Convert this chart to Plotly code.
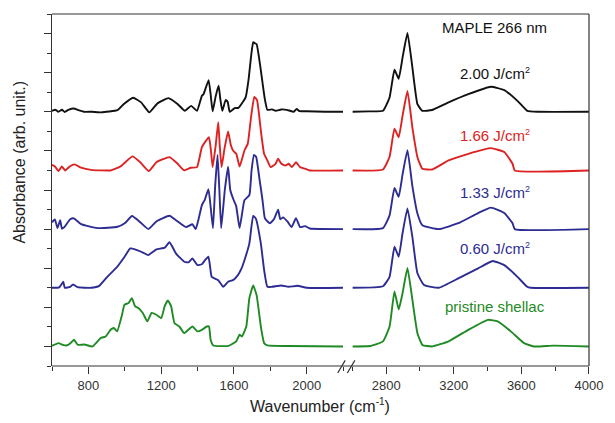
import plotly.graph_objects as go

FONT = "Liberation Sans, Arial, sans-serif"

# Fingerprint region (600-2200 cm-1): (wavenumber, absorbance) pairs
fp_pristine = [
    (600, 0.03), (635, 0.17), (660, 0.08), (679, 0.05), (700, 0.15), (721, 0.34),
    (742, 0.08), (778, 0.1), (823, 0.0), (868, 0.43), (895, 0.51), (922, 0.85),
    (940, 0.94), (958, 0.77), (985, 1.62), (998, 2.13), (1021, 2.22), (1039, 2.47),
    (1057, 2.05), (1075, 1.96), (1099, 1.71), (1124, 1.28), (1147, 1.71), (1174, 1.62),
    (1201, 1.45), (1219, 2.05), (1237, 2.35), (1255, 2.05), (1273, 1.2), (1300, 1.02),
    (1327, 0.68), (1372, 1.02), (1399, 0.77), (1424, 0.85), (1451, 1.02), (1463, 1.02),
    (1472, 0.34), (1487, 0.05), (1570, 0.03), (1613, 0.26), (1631, 0.6), (1644, 0.51),
    (1668, 1.02), (1685, 2.47), (1706, 3.12), (1725, 2.61), (1748, 1.02), (1766, 0.17),
    (1784, 0.05), (1900, 0.02), (2200, 0.0),
]
fp_060 = [
    (600, 0.0), (640, 0.02), (662, 0.31), (670, 0.0), (700, 0.05), (716, 0.17),
    (740, 0.03), (814, 0.0), (860, 0.1), (904, 0.56), (958, 1.07), (1000, 1.6),
    (1030, 2.01), (1060, 1.95), (1100, 1.8), (1129, 1.67), (1174, 1.96), (1220, 2.05),
    (1246, 2.33), (1282, 1.75), (1327, 1.33), (1350, 1.3), (1372, 1.5), (1399, 1.16),
    (1424, 1.2), (1440, 1.4), (1460, 1.59), (1470, 1.0), (1478, 0.56), (1514, 0.39),
    (1541, 0.05), (1568, 0.31), (1595, 0.39), (1622, 0.65), (1640, 0.95), (1658, 1.41),
    (1685, 2.27), (1706, 3.67), (1720, 3.55), (1748, 2.27), (1766, 0.91), (1784, 0.05),
    (1810, 0.05), (1860, 0.12), (1900, 0.05), (1950, 0.1), (2000, 0.0), (2200, 0.0),
]
fp_133 = [
    (600, 0.35), (616, 0.5), (630, 0.05), (645, 0.45), (655, 0.02), (668, 0.1),
    (700, 0.5), (720, 0.55), (760, 0.25), (850, 0.05), (960, 0.12), (1000, 0.3),
    (1040, 0.67), (1085, 0.35), (1130, 0.0), (1175, 0.4), (1246, 0.68), (1282, 0.45),
    (1336, 0.1), (1372, 0.25), (1390, 0.0), (1408, 0.6), (1424, 1.23), (1440, 1.5),
    (1460, 2.04), (1472, 1.15), (1485, 0.05), (1497, 2.2), (1510, 3.79), (1520, 2.0),
    (1530, 0.05), (1550, 2.0), (1568, 3.19), (1580, 2.0), (1598, 1.5), (1612, 1.2),
    (1631, 0.05), (1645, 0.8), (1658, 1.48), (1685, 1.74), (1697, 3.0), (1710, 3.79),
    (1722, 3.7), (1740, 2.6), (1757, 1.5), (1770, 0.56), (1784, 0.4), (1798, 0.3),
    (1820, 0.5), (1843, 0.99), (1855, 0.5), (1870, 0.6), (1895, 0.38), (1917, 0.1),
    (1941, 0.56), (1964, 0.1), (1991, 0.15), (2018, 0.03), (2200, 0.0),
]
fp_166 = [
    (600, 0.28), (616, 0.2), (636, -0.03), (654, 0.2), (672, 0.0), (697, 0.2),
    (724, 0.31), (760, 0.14), (814, 0.03), (922, 0.0), (976, 0.2), (1042, 0.72),
    (1084, 0.43), (1132, -0.03), (1174, 0.42), (1246, 0.68), (1291, 0.34), (1327, 0.0),
    (1363, 0.14), (1397, 0.17), (1424, 1.19), (1445, 1.5), (1463, 1.7), (1474, 1.0),
    (1483, 0.17), (1500, 1.3), (1514, 2.47), (1522, 1.3), (1532, 0.17), (1548, 1.1),
    (1568, 1.99), (1583, 1.3), (1595, 1.02), (1613, 0.85), (1631, 0.2), (1645, 0.6),
    (1658, 1.02), (1676, 1.36), (1694, 2.71), (1712, 3.76), (1727, 3.6), (1748, 2.05),
    (1766, 0.85), (1784, 0.51), (1802, 0.17), (1829, 0.34), (1843, 0.6), (1861, 0.34),
    (1883, 0.25), (1901, 0.34), (1919, 0.17), (1941, 0.42), (1964, 0.17), (1991, 0.09),
    (2018, 0.0), (2200, 0.0),
]
fp_200 = [
    (600, 0.05), (620, 0.1), (635, 0.0), (655, 0.1), (670, -0.01), (690, 0.1),
    (720, 0.17), (745, 0.08), (775, 0.0), (820, 0.0), (870, -0.03), (960, 0.08),
    (995, 0.4), (1046, 0.72), (1090, 0.48), (1135, -0.03), (1180, 0.43), (1240, 0.7),
    (1290, 0.4), (1330, 0.05), (1365, 0.3), (1397, 0.05), (1424, 0.82), (1433, 0.9),
    (1461, 1.62), (1472, 0.9), (1483, 0.02), (1500, 0.8), (1516, 1.33), (1526, 0.6),
    (1536, 0.05), (1555, 0.61), (1566, 0.5), (1577, 0.0), (1604, 0.19), (1625, 0.2),
    (1649, 0.5), (1665, 0.75), (1680, 1.6), (1694, 2.8), (1706, 3.56), (1716, 3.5),
    (1725, 3.45), (1743, 2.46), (1757, 1.5), (1770, 0.65), (1784, 0.1), (1810, 0.12),
    (1830, 0.05), (1860, 0.12), (1890, 0.1), (1930, 0.0), (1945, 0.15), (1960, 0.03),
    (2000, 0.03), (2100, 0.0), (2200, 0.0),
]

# C-H / O-H stretching region (2600-4000 cm-1)
ch_pristine = [
    (2600, 0.0), (2703, 0.02), (2781, 0.26), (2820, 1.02), (2849, 2.81), (2874, 1.89),
    (2897, 2.73), (2926, 4.01), (2955, 2.39), (2985, 0.68), (3014, 0.08), (3072, 0.0),
    (3169, 0.26), (3286, 0.85), (3402, 1.36), (3460, 1.28), (3538, 0.77), (3616, 0.17),
    (3674, 0.0), (3790, 0.04), (4000, 0.0),
]
ch_060 = [
    (2600, 0.0), (2781, 0.08), (2820, 0.56), (2849, 2.1), (2874, 1.59), (2897, 2.8),
    (2926, 4.06), (2955, 2.6), (2985, 0.74), (3024, 0.14), (3111, 0.0), (3227, 0.48),
    (3344, 0.99), (3430, 1.37), (3499, 1.16), (3577, 0.56), (3635, 0.05), (3655, 0.0),
    (4000, 0.0),
]
ch_133 = [
    (2600, 0.0), (2781, 0.05), (2820, 0.7), (2849, 2.1), (2874, 1.65), (2897, 2.8),
    (2926, 4.04), (2955, 2.2), (2985, 0.8), (3014, 0.2), (3111, 0.0), (3227, 0.3),
    (3344, 0.82), (3420, 1.1), (3499, 0.82), (3548, 0.3), (3561, 0.0), (4000, 0.0),
]
ch_166 = [
    (2600, 0.0), (2781, 0.05), (2820, 0.7), (2849, 2.13), (2874, 1.7), (2897, 2.8),
    (2926, 4.06), (2955, 2.2), (2985, 0.68), (3014, 0.09), (3072, 0.05), (3169, 0.51),
    (3286, 0.85), (3420, 1.14), (3499, 0.94), (3548, 0.34), (3561, 0.0), (4000, 0.0),
]
ch_200 = [
    (2600, 0.0), (2700, 0.02), (2781, 0.05), (2820, 0.73), (2849, 2.15), (2874, 1.69),
    (2897, 2.78), (2926, 4.03), (2955, 2.27), (2985, 0.39), (3014, 0.05), (3072, 0.09),
    (3169, 0.48), (3286, 0.9), (3420, 1.28), (3499, 1.11), (3577, 0.56), (3635, 0.05),
    (3700, 0.0), (4000, 0.0),
]

SUP2 = "<sup><span style='font-size:9px'>2</span></sup>"
series_fp = [fp_pristine, fp_060, fp_133, fp_166, fp_200]
series_ch = [ch_pristine, ch_060, ch_133, ch_166, ch_200]
labels = ["pristine shellac", "0.60 J/cm" + SUP2, "1.33 J/cm" + SUP2,
          "1.66 J/cm" + SUP2, "2.00 J/cm" + SUP2]
offsets = [0, 3, 6, 9, 12]
colors = ["#1f8a24", "#2c2c92", "#2c2c92", "#dc2222", "#111111"]
label_y = [0.168, 0.335, 0.494, 0.656, 0.832]

fig = go.Figure()
for fp, ch, off, col, name in zip(series_fp, series_ch, offsets, colors, labels):
    for pts, xa in ((fp, "x"), (ch, "x2")):
        wn = [p[0] for p in pts]
        ab = [p[1] + off for p in pts]
        fig.add_trace(go.Scatter(
            x=wn, y=ab, xaxis=xa, yaxis="y", mode="lines", name=name,
            line=dict(color=col, width=1.9, shape="spline", smoothing=0.4),
            hoverinfo="skip",
        ))

axis_col = "#333333"
xcommon = dict(
    tick0=0, dtick=400, ticks="outside", ticklen=7, tickwidth=1.2, tickcolor=axis_col,
    minor=dict(dtick=200, tick0=0, ticks="outside", ticklen=4, tickwidth=1.2, tickcolor=axis_col),
    showline=False, showgrid=False, zeroline=False, anchor="y",
    tickfont=dict(family=FONT, size=13, color=axis_col),
)
fig.update_layout(
    width=615, height=423,
    margin=dict(l=52, r=16, t=14, b=57),
    paper_bgcolor="white", plot_bgcolor="white", showlegend=False,
    font=dict(family=FONT, color=axis_col),
    xaxis=dict(domain=[0, 0.5420], range=[600, 2200], **xcommon),
    xaxis2=dict(domain=[0.5594, 1], range=[2600, 4000.5], **xcommon),
    yaxis=dict(
        range=[-1, 17], tick0=0, dtick=2, ticks="outside", ticklen=7, tickwidth=1.2,
        tickcolor=axis_col, showticklabels=False,
        minor=dict(dtick=1, tick0=0, ticks="outside", ticklen=4, tickwidth=1.2, tickcolor=axis_col),
        showline=True, linecolor=axis_col, linewidth=1.2, showgrid=False, zeroline=False,
    ),
)

# frame: top, right and bottom edges plus the axis-break marks
line_style = dict(color=axis_col, width=1.2)
fig.add_shape(type="line", xref="paper", yref="paper", x0=0, x1=1, y0=1, y1=1, line=line_style)
fig.add_shape(type="line", xref="paper", yref="paper", x0=1, x1=1, y0=0, y1=1, line=line_style)
fig.add_shape(type="line", xref="paper", yref="paper", x0=0, x1=1, y0=0, y1=0, line=line_style)
for bx in (0.532, 0.550):
    fig.add_shape(type="line", xref="paper", yref="paper",
                  x0=bx, x1=bx + 0.014, y0=-0.02, y1=0.016, line=line_style)

annotations = [
    dict(text="MAPLE 266 nm", x=0.8245, y=0.963, font=dict(size=15, color="#111111")),
    dict(text="Absorbance (arb. unit.)", x=-0.060, y=0.58, textangle=-90,
         font=dict(size=16, color="#222222")),
    dict(text="Wavenumber (cm<sup><span style='font-size:10px'>-1</span></sup>)",
         x=0.499, y=-0.111, font=dict(size=16, color="#222222")),
]
for name, col, ly in zip(labels, colors, label_y):
    annotations.append(dict(text=name, x=0.8245, y=ly, font=dict(size=15, color=col)))
for a in annotations:
    a.update(xref="paper", yref="paper", showarrow=False, xanchor="center", yanchor="middle")
    a["font"]["family"] = FONT
fig.update_layout(annotations=annotations)

fig.write_html("out.html")
